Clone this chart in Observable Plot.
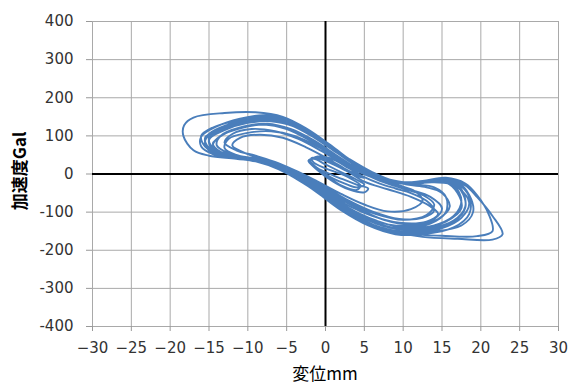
<!DOCTYPE html>
<html>
<head>
<meta charset="utf-8">
<script src="https://cdn.jsdelivr.net/npm/d3@7"></script>
<script src="https://cdn.jsdelivr.net/npm/@observablehq/plot@0.6"></script>
<style>
  html, body { margin: 0; padding: 0; background: #fff; }
  #chart { position: relative; width: 570px; height: 385px; overflow: hidden; }
  #ylabel { position: absolute; left: 18px; top: 171px; transform: translate(-50%, -50%) rotate(-90deg);
    font: bold 17px "Noto Sans CJK JP", sans-serif; white-space: nowrap; color: #000; }
  #xlabel { position: absolute; left: 325px; top: 364px; transform: translateX(-50%);
    font: 17px "Noto Sans CJK JP", sans-serif; white-space: nowrap; color: #000; line-height: 18px; }
</style>
</head>
<body>
<div id="chart"></div>
<script>
const xTicks = [-30, -25, -20, -15, -10, -5, 0, 5, 10, 15, 20, 25, 30];
const yTicks = [-400, -300, -200, -100, 0, 100, 200, 300, 400];
const xTitle = "変位mm";
const yTitle = "加速度Gal";

// displacement (mm), acceleration (Gal) — traced cycle by cycle
const cycle1 = [[0,0],[1,-12],[2.5,-25],[4,-35],[5,-28],[4,-15],[2,5],[0,25],[-1.5,40],[-2.2,35],[-1.5,20],[0,5],[2,-12],[4,-28],[5.5,-38],[5,-48],[3,-40],[1,-20],[-1,10],[-2,32],[-1,46],[1,38],[3,15],[5,-8],[7,-25]];
const cycle2 = [[9,-38],[11,-50],[13,-70],[14,-95],[12.5,-115],[9.5,-118],[6,-98],[3,-70],[0,-35],[-3,0],[-6,28],[-9,48],[-11.5,62],[-13,82],[-12,105],[-9.5,118],[-6.5,112],[-3.5,92],[-0.5,60],[2.5,25],[5.5,-5],[8.5,-22],[11.5,-28],[14,-35],[15.5,-60],[15.5,-100],[13.5,-130],[10,-140],[6.5,-122],[3,-90],[0,-52],[-3,-15],[-6,15],[-9,35],[-12,48],[-14.5,62],[-15.5,85],[-14.5,110],[-12,132],[-9,145],[-6,140],[-3,115],[0,80],[3,40],[6,5],[9,-20],[12,-25],[15,-18],[17,-35],[18.5,-75],[17.5,-115],[15,-142],[11,-155],[7,-140],[3.5,-108],[0,-62],[-3,-22],[-6,12],[-9,33],[-12,42],[-14.5,52],[-16,72],[-16,98],[-14,125],[-11,145],[-8,154],[-5,143],[-2,112],[1,70],[4,25],[7,-8],[10,-25],[13,-22],[16,-15]];
const cycle3 = [[18,-30],[19.5,-60],[21.5,-110],[22.8,-158],[21.5,-172],[17,-170],[12.5,-165],[8.5,-150],[5,-125],[1.5,-82],[-1.5,-38],[-4.5,0],[-8,30],[-11.5,40],[-15,48],[-17,62],[-18.3,100],[-18.2,128],[-17,148],[-13,160],[-9,162],[-5.5,150],[-2.5,120],[0.5,78],[3.5,32],[6.5,-2],[9.5,-22],[12.5,-18],[15.5,-10],[18,-25],[19.5,-55],[21,-105],[21.5,-150],[19.5,-163],[15,-162],[11,-157],[7,-140],[3.5,-105],[0,-58],[-3,-18],[-6,15],[-9,36],[-12,44],[-14.5,55],[-15.5,78],[-15,105],[-12.5,130],[-9.5,146],[-6.5,146],[-3.5,125],[-0.5,88],[2.5,45],[5.5,8],[8.5,-18],[11.5,-24],[14.5,-14],[17,-22],[18.5,-55],[19,-100],[17.5,-135],[13.5,-152],[10,-156],[6,-138],[2.5,-100],[-0.5,-52],[-3.5,-10],[-7,22],[-10,40],[-13,50],[-15,65],[-15.5,92],[-13.5,120],[-10.5,140],[-7.5,150],[-4.5,138],[-1.5,105],[1.5,62],[4.5,18],[7.5,-12],[10.5,-25],[13.5,-20],[16,-18]];
const cycle4 = [[17.5,-40],[18,-85],[16.5,-122],[13,-145],[9.5,-150],[6,-132],[2.5,-95],[-0.5,-48],[-3.5,-8],[-6.5,22],[-9.5,42],[-12.5,52],[-14.5,68],[-15,95],[-13,122],[-10,140],[-7,145],[-4,130],[-1,95],[2,52],[5,12],[8,-14],[11,-24],[14,-22],[16.5,-30],[17.5,-70],[16.5,-110],[13.5,-138],[10,-146],[6.5,-130],[3,-95],[0,-55],[-3,-14],[-6,18],[-9,38],[-12,50],[-14,62],[-15,88],[-13.5,115],[-10.5,135],[-7.5,142],[-4.5,128],[-1.5,96],[1.5,55],[4.5,15],[7.5,-12],[10.5,-28],[13,-35],[15,-50],[16,-85],[14.5,-118],[11.5,-135],[8,-132],[4.5,-105],[1,-65],[-2,-25],[-5,8],[-8,30],[-11,42],[-13.5,55],[-14.5,75],[-13.5,100],[-11,120],[-8,130],[-5,120],[-2,92],[1,52],[4,12]];
const cycle5 = [[7,-18],[10,-38],[12.5,-55],[14,-80],[13,-108],[10,-120],[6.5,-105],[3,-75],[0,-40],[-3,-5],[-6,22],[-9,40],[-11.5,50],[-13,68],[-12.5,92],[-10,108],[-7,112],[-4,100],[-1,72],[2,35],[4.5,5],[7,-15],[9.5,-30],[11.5,-45],[12.5,-70],[11,-92],[8,-98],[5,-80],[2,-52],[-1,-20],[-4,10],[-7,32],[-10,52],[-12,75],[-11,95],[-8.5,103],[-5.5,95],[-2.5,70],[0.5,38],[3,8],[5,-10]];
const cycle6 = [[4,-5],[2.5,10],[1,25],[-0.5,38],[-1.8,42],[-1.5,30],[0,15],[2,0],[3.5,-15],[4.5,-30],[4,-42],[2,-30],[0.5,-10],[-1,15],[-2,35],[-1,45],[0.5,35],[2,20],[3,5]];
const cycle7 = [[5,-20],[8,-40],[11,-60],[13.5,-85],[14.5,-105],[13,-125],[9.5,-128],[6,-110],[2.5,-78],[-0.5,-40],[-3.5,-5],[-7,25],[-10,42],[-12.5,55],[-14,75],[-13.5,100],[-11,122],[-8,130],[-5,118],[-2,88],[1,48],[4,10],[7,-12],[10,-22],[13,-20],[15.5,-22],[17,-50],[17.5,-90],[15.5,-125],[12,-142],[8.5,-140],[5,-115],[1.5,-75],[-1.5,-32],[-4.5,5],[-8,30],[-11,45],[-14,55],[-15.5,72],[-16,100],[-14.5,122],[-11.5,140],[-8.5,150],[-5.5,140],[-2.5,112],[0.5,70],[3.5,28],[6.5,-4],[9.5,-20],[12.5,-20],[15,-12],[17,-25],[18.5,-60],[18.5,-105],[16.5,-140],[12.5,-158],[9,-158],[5.5,-135],[2,-95],[-1,-50],[-4,-8],[-7.5,25],[-10.5,42],[-13,52],[-15,68],[-15.5,95],[-13.5,120],[-10.5,138],[-7.5,146],[-4.5,132],[-1.5,100],[1.5,58],[4.5,16],[7.5,-10],[10.5,-22],[13.5,-18],[16,-20],[17.5,-45],[18,-88],[16.5,-125],[13,-148],[9.5,-152],[6,-132],[2.5,-92],[-0.5,-48],[-3.5,-8],[-6.5,22],[-9.5,40],[-12.5,50],[-14.5,64],[-15,90],[-13,115],[-10,134],[-7,138],[-4,124],[-1,92],[2,50],[4.5,12],[6.5,-8]];
const cycle8 = [[8.5,-28],[11,-42],[13.5,-60],[15,-90],[14,-118],[11,-132],[7.5,-120],[4,-88],[0.5,-50],[-2.5,-15],[-5.5,15],[-8.5,35],[-11.5,46],[-13.5,58],[-14.5,80],[-13,105],[-10.5,125],[-7.5,132],[-4.5,118],[-1.5,88],[1.5,48],[4,15],[6,-5],[8,-18],[10,-25]];

const cycles = [cycle1, cycle2, cycle3, cycle4, cycle5, cycle6, cycle7, cycle8];
const trace = cycles.flat().map(([x, y], i) => ({i, x, y}));

const fmtX = d => d < 0 ? "\u2212" + (-d) : String(d);
const fmtY = d => String(d);

const gridColor = "#a9a9a9";

const plot = Plot.plot({
  width: 570,
  height: 385,
  marginLeft: 92,
  marginRight: 12,
  marginTop: 21,
  marginBottom: 59,
  style: {fontFamily: "DejaVu Sans, sans-serif", fontSize: "15px", background: "#fff", color: "#333"},
  x: {domain: [-30, 30], label: null},
  y: {domain: [-400, 400], label: null},
  marks: [
    Plot.ruleX(xTicks, {stroke: gridColor, strokeWidth: 1}),
    Plot.ruleY(yTicks, {stroke: gridColor, strokeWidth: 1}),
    Plot.ruleX([0], {stroke: "#000", strokeWidth: 2}),
    Plot.ruleY([0], {stroke: "#000", strokeWidth: 2}),
    Plot.axisY(yTicks, {tickSize: 6, tickPadding: 13, tickFormat: fmtY, stroke: "#999", fill: "#333", label: null, fontSize: 15}),
    Plot.axisX(xTicks, {tickSize: 5, tickPadding: 11, tickFormat: fmtX, stroke: "#999", fill: "#333", label: null, fontSize: 15}),
    Plot.line(trace, {x: "x", y: "y", sort: "i", stroke: "#4a7ebb", strokeWidth: 1.9, curve: "catmull-rom", strokeLinejoin: "round"})
  ]
});

const chart = document.getElementById("chart");
chart.appendChild(plot);
const yl = document.createElement("div"); yl.id = "ylabel"; yl.textContent = yTitle; chart.appendChild(yl);
const xl = document.createElement("div"); xl.id = "xlabel"; xl.textContent = xTitle; chart.appendChild(xl);
</script>
</body>
</html>
